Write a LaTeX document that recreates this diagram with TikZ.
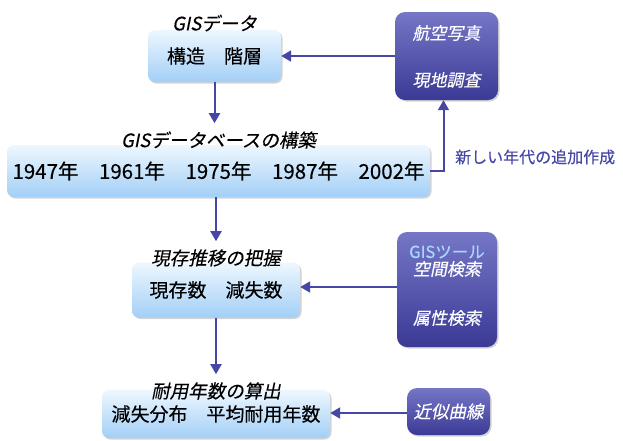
\documentclass[tikz,border=0pt]{standalone}
\usepackage{fontspec}
\newfontfamily\jp[FakeBold=0.3]{Noto Sans CJK JP}
\newfontfamily\jpsl[FakeSlant=0.2,FakeBold=0.3]{Noto Sans CJK JP}
\usetikzlibrary{arrows.meta,shadows}
\definecolor{arrowc}{HTML}{4646A6}
\definecolor{lighttop}{HTML}{EEF7FF}
\definecolor{lightbot}{HTML}{A2CFF6}
\definecolor{darktop}{HTML}{7676C6}
\definecolor{darkbot}{HTML}{3A3A96}
\definecolor{gisblue}{HTML}{A8D8FF}
\begin{document}
\begin{tikzpicture}[x=1pt,y=-1pt,
  lightbox/.style={rounded corners=7pt, top color=lighttop, bottom color=lightbot, draw=none,
    drop shadow={opacity=0.35, shadow xshift=1.5pt, shadow yshift=-1.5pt},
    inner sep=0pt, font=\jp\fontsize{19}{21}\selectfont},
  darkbox/.style={rounded corners=10pt, top color=darktop, bottom color=darkbot, draw=none,
    drop shadow={opacity=0.35, shadow xshift=1.5pt, shadow yshift=-1.5pt},
    inner sep=0pt},
  darktext/.style={text=white, font=\jpsl\fontsize{17}{19}\selectfont, inner sep=0pt},
  title/.style={font=\jpsl\fontsize{18.5}{20}\selectfont, inner sep=0pt},
  arr/.style={draw=arrowc, line width=2pt, -{Triangle[length=10pt,width=11pt]}}]
\useasboundingbox (0,0) rectangle (623,440);

% left column boxes
\node[lightbox, minimum width=133pt, minimum height=52pt] (b1) at (214.5,56) {構造　階層};
\node[title] (t1) at (214.5,23) {GISデータ};

\node[lightbox, minimum width=423pt, minimum height=52pt, font=\jp\fontsize{20.5}{22}\selectfont] (b3) at (218.5,171) {1947年　1961年　1975年　1987年　2002年};
\node[title] (t3) at (218.5,140) {GISデータベースの構築};

\node[lightbox, minimum width=168pt, minimum height=55pt] (b4) at (216,290) {現存数　減失数};
\node[title] (t4) at (216,258) {現存推移の把握};

\node[lightbox, minimum width=228pt, minimum height=48pt] (b6) at (216,414) {減失分布　平均耐用年数};
\node[title] (t6) at (216,391) {耐用年数の算出};

% right column boxes
\node[darkbox, minimum width=103pt, minimum height=88pt] (b2) at (446.5,56) {};
\node[darktext] (b2a) at (446.5,33) {航空写真};
\node[darktext] (b2b) at (446.5,80) {現地調査};

\node[darkbox, minimum width=100pt, minimum height=115pt] (b5) at (447,289.5) {};
\node[text=gisblue, font=\jp\fontsize{16.5}{18}\selectfont, inner sep=0pt] (b5a) at (447,252) {GISツール};
\node[darktext] (b5b) at (447,269) {空間検索};
\node[darktext] (b5c) at (447,318) {属性検索};

\node[darkbox, minimum width=83pt, minimum height=47pt] (b7) at (448.5,411.5) {};
\node[darktext, font=\jpsl\fontsize{17.5}{19}\selectfont] (b7a) at (448.5,411.5) {近似曲線};

% label
\node[anchor=west, text=arrowc, font=\jp\fontsize{16}{18}\selectfont, inner sep=0pt] (lbl) at (455,157) {新しい年代の追加作成};

% connectors
\draw[arr] (b2.west |- b1.east) -- (b1.east);
\draw[arr] (b1.south) -- ([yshift=8pt]b1.south |- t3.north);
\draw[arr] (b3.east) -| ([xshift=-3pt]b2.south);
\draw[arr] (b4.north |- b3.south) -- ([yshift=8pt]t4.north);
\draw[arr] (b5.west |- 0,287) -- (b4.east |- 0,287);
\draw[arr] (b4.south) -- ([yshift=8pt]t6.north);
\draw[arr] (b7.west |- 0,413) -- (b6.east |- 0,413);
\end{tikzpicture}
\end{document}
